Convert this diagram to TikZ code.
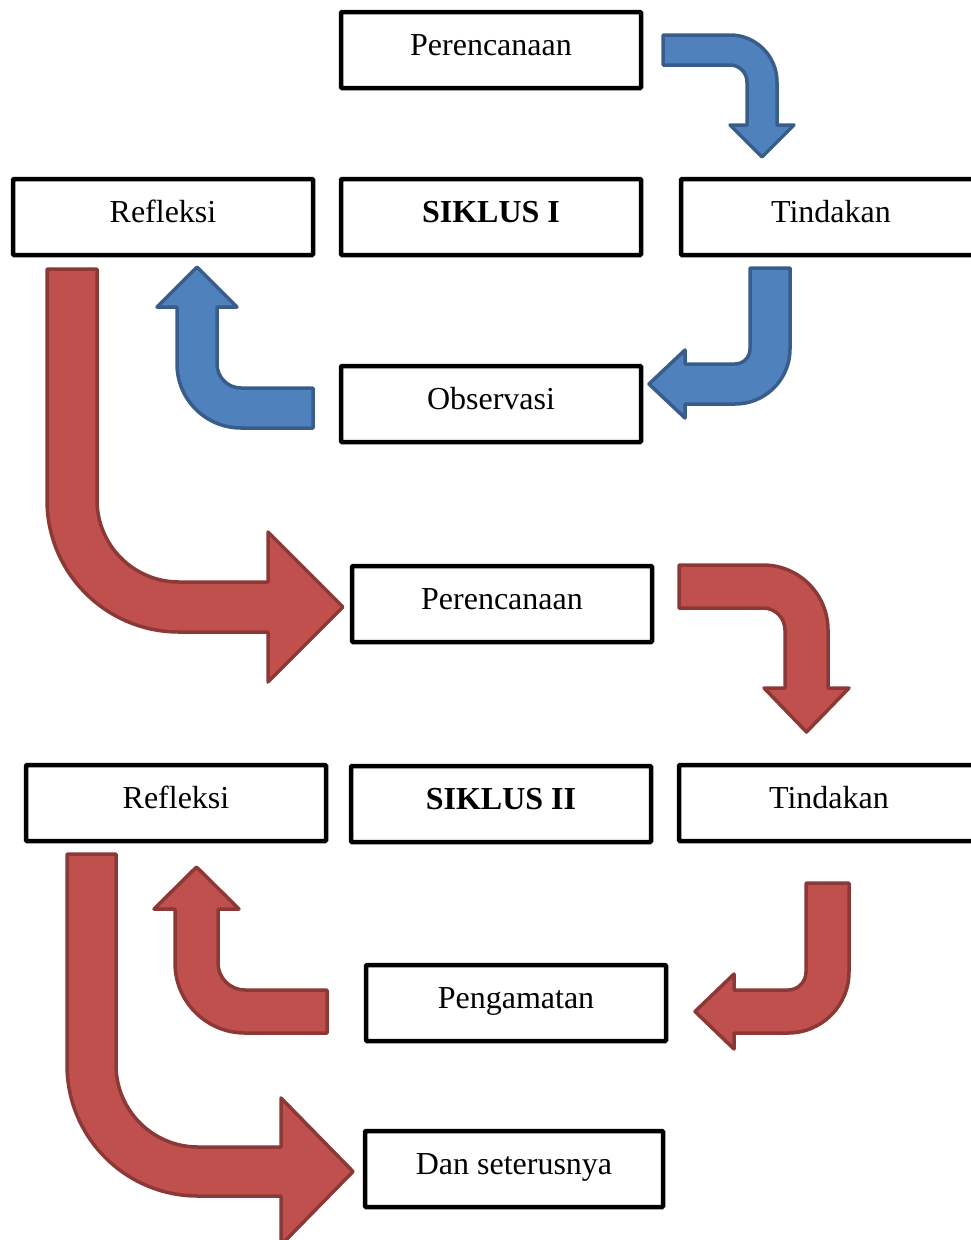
\documentclass[tikz,border=0pt]{standalone}
\usepackage{fontspec}
\setmainfont{Liberation Serif}
\definecolor{bfill}{HTML}{4F81BD}
\definecolor{bline}{HTML}{385D8A}
\definecolor{rfill}{HTML}{C0504D}
\definecolor{rline}{HTML}{8C3836}
\begin{document}
\begin{tikzpicture}[x=1pt,y=-1pt,
  box/.style={draw=black, fill=white, line width=4.5pt, minimum width=300pt, minimum height=76pt,
    inner sep=0pt, text height=22pt, text depth=12pt, font=\fontsize{32}{38}\selectfont,
    rounded corners=1pt},
  barrow/.style={fill=bfill, draw=bline, line width=3.5pt, line join=round},
  rarrow/.style={fill=rfill, draw=rline, line width=3.5pt, line join=round}]
\useasboundingbox (0,0) rectangle (971,1240);
\clip (0,0) rectangle (971,1240);

% boxes
\node[box] (p1) at (491,50) {Perencanaan};
\node[box] (r1) at (163,217) {Refleksi};
\node[box] (s1) at (491,217) {\textbf{SIKLUS I}};
\node[box] (t1) at (831,217) {Tindakan};
\node[box] (o1) at (491,404) {Observasi};
\node[box] (p2) at (502,604) {Perencanaan};
\node[box] (r2) at (176,803) {Refleksi};
\node[box] (s2) at (501,804) {\textbf{SIKLUS II}};
\node[box] (t2) at (829,803) {Tindakan};
\node[box] (pg) at (516,1003) {Pengamatan};
\node[box, minimum width=298pt] (ds) at (514,1169) {Dan seterusnya};

% blue arrows (Siklus I)
\draw[barrow] (663,35) -- (730,35) arc[start angle=-90,end angle=0,radius=47] -- (777,125) -- (794,125)
  -- (762,157) -- (730,125) -- (747,125) -- (747,82) arc[start angle=0,end angle=-90,radius=17] -- (663,65) -- cycle;
\draw[barrow] (750,268) -- (790,268) -- (790,349) arc[start angle=0,end angle=90,radius=55] -- (685,404) -- (685,418)
  -- (649,384) -- (685,350) -- (685,364) -- (735,364) arc[start angle=90,end angle=0,radius=15] -- cycle;
\draw[barrow] (313,388) -- (241,388) arc[start angle=90,end angle=180,radius=24] -- (217,307) -- (237,307)
  -- (197,267) -- (157,307) -- (177,307) -- (177,364) arc[start angle=180,end angle=90,radius=64] -- (313,428) -- cycle;

% red arrows (Siklus II)
\draw[rarrow] (47,269) -- (97,269) -- (97,500) arc[start angle=180,end angle=90,radius=82] -- (268,582) -- (268,532)
  -- (343,607) -- (268,682) -- (268,632) -- (179,632) arc[start angle=90,end angle=180,radius=132] -- cycle;
\draw[rarrow] (679,565) -- (763,565) arc[start angle=-90,end angle=0,radius=65] -- (828,688) -- (849,688)
  -- (806.5,732) -- (764,688) -- (785,688) -- (785,630) arc[start angle=0,end angle=-90,radius=22] -- (679,608) -- cycle;
\draw[rarrow] (806,883) -- (849,883) -- (849,972) arc[start angle=0,end angle=90,radius=61] -- (734,1033) -- (734,1049)
  -- (695,1011.5) -- (734,974) -- (734,990) -- (788,990) arc[start angle=90,end angle=0,radius=18] -- cycle;
\draw[rarrow] (327,990) -- (245,990) arc[start angle=90,end angle=180,radius=27] -- (218,909) -- (239,909)
  -- (196.5,867) -- (154,909) -- (175,909) -- (175,963) arc[start angle=180,end angle=90,radius=70] -- (327,1033) -- cycle;
\draw[rarrow] (67,854) -- (116,854) -- (116,1065) arc[start angle=180,end angle=90,radius=82] -- (281,1147) -- (281,1098)
  -- (353,1171.5) -- (281,1245) -- (281,1196) -- (198,1196) arc[start angle=90,end angle=180,radius=131] -- cycle;
\end{tikzpicture}
\end{document}
